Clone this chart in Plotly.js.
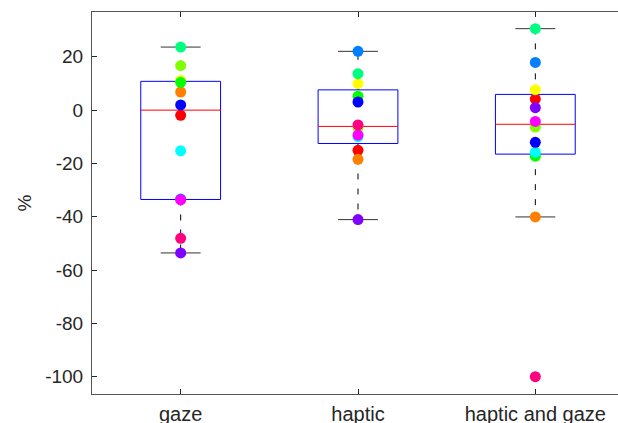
<!DOCTYPE html>
<html>
<head>
<meta charset="utf-8">
<script src="https://cdn.plot.ly/plotly-3.0.1.min.js"></script>
<style>
html,body{margin:0;padding:0;overflow:hidden;background:#fff;}
#chart{width:640px;height:423px;}
</style>
</head>
<body>
<div id="chart"></div>
<script>
// categories
var categories = ["gaze", "haptic", "haptic and gaze"];
// subject colours (hsv colormap, 12 subjects)
var subjectColors = ["#ff0000","#ff8000","#ffff00","#80ff00","#00ff00","#00ff80",
                     "#00ffff","#0080ff","#0000ff","#8000ff","#ff00ff","#ff0080"];
// per-subject values (%) for each condition, in subject order
var gazeValues        = [-2.0, 6.75, 11.1, 16.6, 10.4, 23.6, -15.3, -33.4, 1.9, -53.6, -33.7, -48.1];
var hapticValues      = [-15.1, -18.5, 9.9, -6.7, 5.2, 13.6, -10.0, 22.0, 3.0, -41.1, -9.4, -5.6];
var hapticGazeValues  = [4.1, -40.1, 7.6, -6.4, -17.3, 30.5, -15.8, 17.85, -12.1, 0.86, -4.3, -100.0];
// y tick values and labels
var yTicks = [-100, -80, -60, -40, -20, 0, 20];
var yTickLabels = ["-100", "-80", "-60", "-40", "-20", "0", "20"];

var series = [gazeValues, hapticValues, hapticGazeValues];

function med(a){var n=a.length;var m=Math.floor(n/2);return n%2?a[m]:(a[m-1]+a[m])/2;}
function stats(vals){
  var s=vals.slice().sort(function(a,b){return a-b;});
  var n=s.length, h=Math.floor(n/2);
  var lower=s.slice(0,h), upper=s.slice(n%2?h+1:h);
  var q1=med(lower), q3=med(upper), m=med(s), iqr=q3-q1;
  var lo=q1-1.5*iqr, hi=q3+1.5*iqr;
  var wl=s.filter(function(v){return v>=lo;})[0];
  var wh=s.filter(function(v){return v<=hi;}).slice(-1)[0];
  return {q1:q1,q3:q3,med:m,wl:wl,wh:wh};
}

var traces=[];
var bw=0.225, cw=0.1125;
var axisCol="#262626";
series.forEach(function(vals,i){
  var c=i+1, st=stats(vals);
  traces.push({x:[c,c],y:[st.q3,st.wh],mode:"lines",line:{color:"#000",width:1,dash:"6px,9px"},hoverinfo:"skip",showlegend:false});
  traces.push({x:[c,c],y:[st.q1,st.wl],mode:"lines",line:{color:"#000",width:1,dash:"6px,9px"},hoverinfo:"skip",showlegend:false});
  traces.push({x:[c-cw,c+cw,null,c-cw,c+cw],y:[st.wh,st.wh,null,st.wl,st.wl],mode:"lines",line:{color:"#333",width:1},hoverinfo:"skip",showlegend:false});
  traces.push({x:[c-bw,c+bw,c+bw,c-bw,c-bw],y:[st.q1,st.q1,st.q3,st.q3,st.q1],mode:"lines",line:{color:"#0000ff",width:1},hoverinfo:"skip",showlegend:false});
  traces.push({x:[c-bw,c+bw],y:[st.med,st.med],mode:"lines",line:{color:"#ff0000",width:1},hoverinfo:"skip",showlegend:false});
});
series.forEach(function(vals,i){
  traces.push({x:vals.map(function(){return i+1;}),y:vals,mode:"markers",
    marker:{color:subjectColors,size:11,line:{width:0}},showlegend:false});
});

var layout={
  width:640,height:423,
  margin:{l:92,r:16,t:12,b:29},
  paper_bgcolor:"#fff",plot_bgcolor:"#fff",
  font:{family:"Liberation Sans, Arial, sans-serif",size:19,color:axisCol},
  showlegend:false,
  xaxis:{range:[0.5,3.5],tickvals:[1,2,3],ticktext:categories,ticks:"inside",ticklen:5,
    tickcolor:axisCol,showline:true,linecolor:"#555",linewidth:1,mirror:"ticks",
    showgrid:false,zeroline:false,tickfont:{size:20,color:axisCol},ticklabelstandoff:2},
  yaxis:{range:[-106.5,36.75],tickvals:yTicks,ticktext:yTickLabels,ticks:"inside",ticklen:5,
    tickcolor:axisCol,showline:true,linecolor:"#555",linewidth:1,mirror:"ticks",
    showgrid:false,zeroline:false,tickfont:{size:19,color:axisCol},ticklabelstandoff:4,
    title:{text:"%",font:{size:19,color:axisCol},standoff:8}}
};
Plotly.newPlot("chart",traces,layout,{displayModeBar:false,staticPlot:true});
</script>
</body>
</html>
